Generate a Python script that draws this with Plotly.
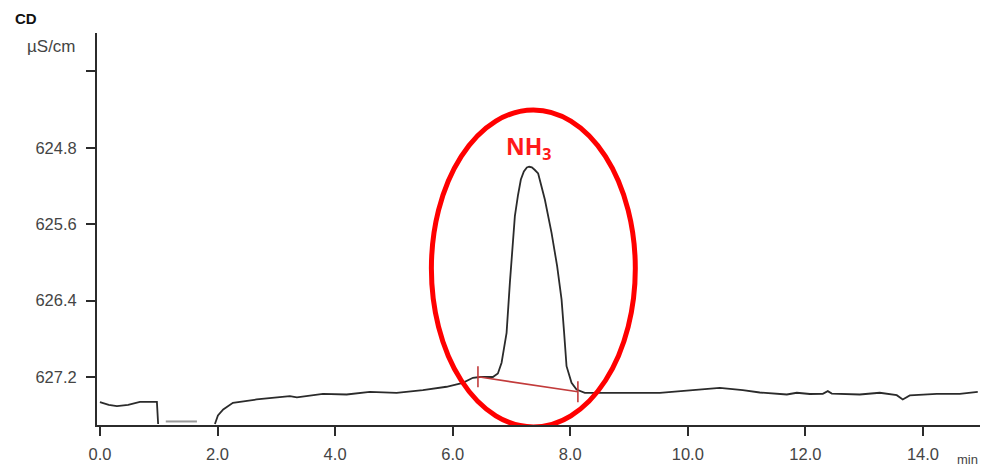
import plotly.graph_objects as go

# Chromatogram trace (time in min, conductivity in µS/cm; y axis is reversed)
seg1_t = [0.0, 0.15, 0.289, 0.48, 0.68, 0.969, 0.99]
seg1_v = [627.461, 627.49, 627.503, 627.49, 627.459, 627.459, 627.69]

seg2_t = [1.956, 2.007, 2.097, 2.262, 2.665, 3.231, 3.35, 3.793, 4.196, 4.592, 5.046, 5.493,
          5.896, 6.173, 6.344, 6.463, 6.684, 6.769, 6.832, 6.917, 6.973, 7.019, 7.058, 7.110,
          7.160, 7.211, 7.262, 7.301, 7.347, 7.398, 7.454, 7.568, 7.682, 7.777, 7.852, 7.896,
          7.937, 8.022, 8.107,
          8.248, 8.844, 9.524, 10.085, 10.544, 10.935, 11.224, 11.684, 11.854, 12.075, 12.296,
          12.381, 12.449, 12.925, 13.265, 13.554, 13.656, 13.776, 14.235, 14.626, 14.932]
seg2_v = [627.69, 627.60, 627.538, 627.468, 627.433, 627.399, 627.412, 627.374, 627.381, 627.353,
          627.363, 627.336, 627.300, 627.259, 627.206, 627.198, 627.198, 627.161, 627.049, 626.736,
          626.213, 625.864, 625.516, 625.300,
          625.132, 625.048, 625.006, 624.999, 625.006, 625.033, 625.069, 625.341, 625.690, 626.039,
          626.387, 626.736, 627.085, 627.259, 627.33,
          627.363, 627.363, 627.365, 627.336,
          627.311, 627.336, 627.36, 627.381, 627.363, 627.376, 627.374, 627.346, 627.371, 627.381,
          627.363, 627.388, 627.433, 627.391, 627.374, 627.374, 627.353]

gray_t = [1.12, 1.65]
gray_v = [627.663, 627.663]

base_t = [6.43, 8.13]
base_v = [627.196, 627.353]

ytick_vals = [624.8, 625.6, 626.4, 627.2]
ytick_text = ["624.8", "625.6", "626.4", "627.2"]
yminor_vals = [624.0]
xtick_vals = [0, 2, 4, 6, 8, 10, 12, 14]
xtick_text = ["0.0", "2.0", "4.0", "6.0", "8.0", "10.0", "12.0", "14.0"]

FONT = "Liberation Sans, Arial, sans-serif"
LINE = "#2b2b2b"
W, H = 981, 467
ML, MR, MT, MB = 97, 1, 33, 42
PW, PH = W - ML - MR, H - MT - MB

fig = go.Figure()
fig.add_trace(go.Scatter(x=seg1_t, y=seg1_v, mode="lines",
                         line=dict(color=LINE, width=1.8), showlegend=False))
fig.add_trace(go.Scatter(x=gray_t, y=gray_v, mode="lines",
                         line=dict(color="#999999", width=2), showlegend=False))
fig.add_trace(go.Scatter(x=seg2_t, y=seg2_v, mode="lines",
                         line=dict(color=LINE, width=1.8), showlegend=False))
# integration baseline
fig.add_trace(go.Scatter(x=base_t, y=base_v, mode="lines",
                         line=dict(color="#c23b3b", width=1.6), showlegend=False))
for bt, bv in zip(base_t, base_v):
    fig.add_trace(go.Scatter(x=[bt, bt], y=[bv - 0.11, bv + 0.11], mode="lines",
                             line=dict(color="#c23b3b", width=1.6), showlegend=False))

# red ellipse highlight
fig.add_shape(type="circle", xref="x", yref="y",
              x0=5.638, x1=9.107, y0=624.405, y1=627.72,
              line=dict(color="#ff0000", width=5), layer="above")

fig.add_annotation(x=7.3, y=624.80, xref="x", yref="y", text="<b>NH<sub>3</sub></b>",
                   showarrow=False, font=dict(color="#ff1a1a", size=23, family="Open Sans, sans-serif"))

fig.add_annotation(xref="paper", yref="paper", x=-(ML - 13) / PW, y=(H - MB - 18) / PH,
                   text="<b>CD</b>", showarrow=False, xanchor="left", yanchor="middle",
                   font=dict(size=15, color="#111", family=FONT))
fig.add_annotation(xref="paper", yref="paper", x=-(ML - 78) / PW, y=(H - MB - 46) / PH,
                   text="µS/cm", showarrow=False, xanchor="right", yanchor="middle",
                   font=dict(size=17, color="#444", family=FONT))
fig.add_annotation(xref="paper", yref="paper", x=1.0, y=-(459 - (H - MB)) / PH,
                   text="min", showarrow=False, xanchor="right", yanchor="middle",
                   font=dict(size=13, color="#444", family=FONT))

fig.update_layout(
    width=W, height=H,
    margin=dict(l=ML, r=MR, t=MT, b=MB, autoexpand=False),
    paper_bgcolor="white", plot_bgcolor="white",
    font=dict(family=FONT, size=16, color="#444"),
    xaxis=dict(range=[-0.05, 14.97], tickvals=xtick_vals, ticktext=xtick_text, automargin=False,
               showgrid=False, zeroline=False, showline=True, linecolor=LINE, linewidth=2,
               ticks="outside", ticklen=9, tickwidth=2, tickcolor=LINE, ticklabelstandoff=4,
               tickfont=dict(size=16.5, color="#444")),
    yaxis=dict(range=[627.7, 623.6], tickvals=ytick_vals, ticktext=ytick_text, automargin=False,
               showgrid=False, zeroline=False, showline=True, linecolor=LINE, linewidth=2,
               ticks="outside", ticklen=9, tickwidth=2, tickcolor=LINE, ticklabelstandoff=6,
               minor=dict(tickvals=yminor_vals, ticks="outside", ticklen=9, tickwidth=2,
                          tickcolor=LINE, showgrid=False),
               tickfont=dict(size=16.5, color="#444")),
)

fig.write_html("out.html", config={"displayModeBar": False},
               post_script="document.body.style.margin='0';document.body.style.overflow='hidden';")
